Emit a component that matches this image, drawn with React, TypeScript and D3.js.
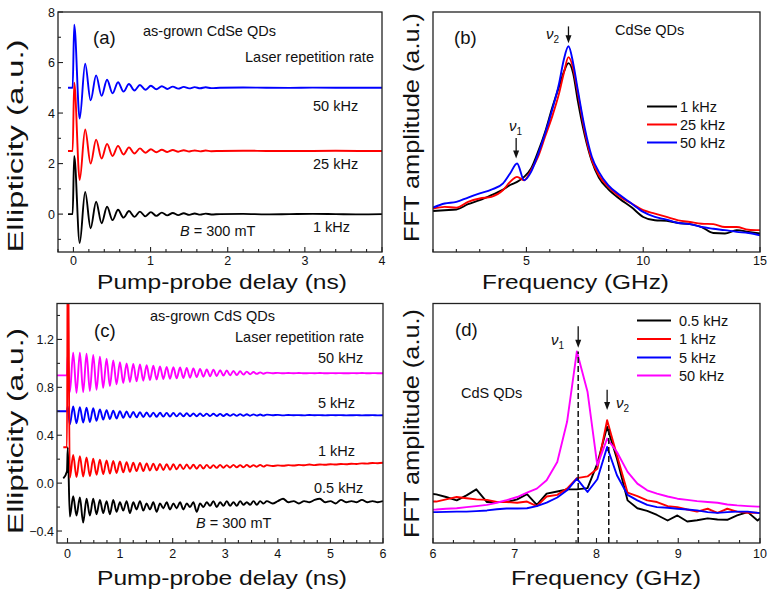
import React from 'react';
import * as d3 from 'd3';

// ---------- (a) CdSe QDs: ellipticity traces (extrema) ----------
const aTime = [-0.07, -0.01,
  0.01, 0.081, 0.152, 0.223, 0.294, 0.365, 0.436, 0.507, 0.578, 0.649,
  0.72, 0.791, 0.862, 0.933, 1.004, 1.075, 1.146, 1.217, 1.288, 1.359,
  1.43, 1.501, 1.572, 1.643, 1.714, 1.785,
  1.9, 2.2, 2.5, 2.8, 3.1, 3.4, 3.7, 4.0];
const aKHz1 = [0, 0,
  2.3, -1.15, 0.88, -0.56, 0.49, -0.36, 0.29, -0.24, 0.17, -0.14,
  0.12, -0.11, 0.1, -0.09, 0.08, -0.07, 0.06, -0.05, 0.045, -0.04,
  0.035, -0.03, 0.025, -0.02, 0.02, -0.015,
  0, 0.01, -0.01, 0, 0.01, 0, -0.01, 0];
const aKHz25 = [2.5, 2.5,
  5.2, 1.35, 3.35, 2.0, 2.95, 2.2, 2.78, 2.3, 2.7, 2.36,
  2.64, 2.4, 2.6, 2.43, 2.57, 2.45, 2.55, 2.46, 2.54, 2.47,
  2.53, 2.48, 2.52, 2.485, 2.515, 2.49,
  2.5, 2.51, 2.5, 2.495, 2.5, 2.505, 2.5, 2.5];
const aKHz50 = [5, 5,
  7.5, 3.78, 5.95, 4.5, 5.49, 4.68, 5.32, 4.78, 5.22, 4.85,
  5.15, 4.89, 5.11, 4.92, 5.08, 4.94, 5.06, 4.955, 5.045, 4.965,
  5.035, 4.975, 5.025, 4.98, 5.02, 4.985,
  5.0, 5.01, 5.0, 4.995, 5.005, 5.0, 5.0, 5.0];

// ---------- (b) CdSe QDs: FFT spectra ----------
const bFreq = [1, 1.5, 2, 2.5, 3, 3.5, 4, 4.3, 4.6, 4.9, 5.2, 5.5, 5.8, 6.1, 6.4, 6.6, 6.8, 7.0,
  7.2, 7.5, 7.8, 8.1, 8.5, 9, 9.5, 10, 10.5, 11, 11.5, 12, 12.5, 13, 13.5, 14, 14.5, 15];
const bKHz1 = [0.171, 0.174, 0.177, 0.199, 0.216, 0.237, 0.26, 0.279, 0.292, 0.313, 0.348, 0.418,
  0.5, 0.6, 0.69, 0.75, 0.787, 0.745, 0.63, 0.485, 0.378, 0.31, 0.262, 0.221, 0.186, 0.146,
  0.132, 0.13, 0.121, 0.116, 0.104, 0.079, 0.077, 0.091, 0.084, 0.077];
const bKHz25 = [0.181, 0.188, 0.185, 0.209, 0.223, 0.23, 0.258, 0.292, 0.313, 0.299, 0.341, 0.397,
  0.481, 0.564, 0.662, 0.745, 0.812, 0.766, 0.662, 0.501, 0.383, 0.32, 0.272, 0.23, 0.202, 0.174,
  0.16, 0.146, 0.132, 0.125, 0.118, 0.116, 0.104, 0.104, 0.093, 0.091];
const bKHz50 = [0.185, 0.202, 0.209, 0.227, 0.244, 0.26, 0.286, 0.327, 0.369, 0.299, 0.334, 0.408,
  0.494, 0.592, 0.703, 0.801, 0.857, 0.787, 0.675, 0.515, 0.397, 0.334, 0.279, 0.237, 0.202, 0.167,
  0.146, 0.135, 0.121, 0.116, 0.104, 0.097, 0.091, 0.084, 0.079, 0.07];

// ---------- (c) CdS QDs: ellipticity traces ----------
const cTime = [-0.2, -0.08, -0.01, 0.005,
  0.044, 0.108, 0.171, 0.235, 0.298, 0.362, 0.425, 0.489, 0.552, 0.616,
  0.679, 0.743, 0.806, 0.87, 0.933, 0.997, 1.06, 1.124, 1.187, 1.251,
  1.314, 1.378, 1.441, 1.505, 1.568, 1.632, 1.695, 1.759, 1.822, 1.886,
  1.949, 2.013, 2.076, 2.14, 2.203, 2.267, 2.33, 2.394, 2.457, 2.521,
  2.584, 2.648, 2.711, 2.775, 2.838, 2.902, 2.965, 3.029, 3.092, 3.156,
  3.219, 3.283, 3.346, 3.41, 3.473, 3.537, 3.6, 3.664, 3.727, 3.791,
  3.9, 4.0, 4.1, 4.2, 4.3, 4.4, 4.5, 4.6, 4.7, 4.8, 4.9,
  5.0, 5.1, 5.2, 5.3, 5.4, 5.5, 5.6, 5.7, 5.8, 5.9, 6.0];
const cKHz05 = [null, 0.04, 0.1, 0.3,
  -0.28, -0.11, -0.27, -0.12, -0.33, -0.13, -0.27, -0.13, -0.26, -0.14,
  -0.25, -0.15, -0.26, -0.14, -0.24, -0.16, -0.23, -0.15, -0.25, -0.16,
  -0.22, -0.15, -0.23, -0.17, -0.22, -0.16, -0.24, -0.17, -0.21, -0.16,
  -0.22, -0.17, -0.21, -0.16, -0.22, -0.17, -0.2, -0.16, -0.24, -0.17,
  -0.2, -0.16, -0.19, -0.15, -0.2, -0.16, -0.19, -0.15, -0.19, -0.16,
  -0.19, -0.15, -0.18, -0.16, -0.18, -0.15, -0.18, -0.15, -0.17, -0.15,
  -0.17, -0.15, -0.13, -0.16, -0.15, -0.17, -0.15, -0.16, -0.14, -0.13, -0.16,
  -0.15, -0.17, -0.14, -0.16, -0.15, -0.16, -0.14, -0.16, -0.15, -0.16, -0.15];
const cKHz1 = [null, 0.3, 0.3, 2.2,
  0.045, 0.235, 0.05, 0.225, 0.055, 0.215, 0.06, 0.205, 0.07, 0.195,
  0.075, 0.19, 0.08, 0.185, 0.085, 0.18, 0.09, 0.175, 0.095, 0.17,
  0.1, 0.168, 0.1, 0.165, 0.105, 0.163, 0.108, 0.16, 0.11, 0.158,
  0.112, 0.157, 0.115, 0.155, 0.117, 0.155, 0.12, 0.153, 0.12, 0.152,
  0.122, 0.152, 0.125, 0.15, 0.127, 0.152, 0.128, 0.15, 0.13, 0.152,
  0.132, 0.15, 0.133, 0.152, 0.135, 0.15, 0.137, 0.152, 0.138, 0.15,
  0.143, 0.148, 0.145, 0.15, 0.147, 0.152, 0.149, 0.155, 0.15, 0.156, 0.153,
  0.158, 0.155, 0.16, 0.158, 0.162, 0.16, 0.165, 0.163, 0.168, 0.166, 0.17];
const cKHz5 = [0.6, 0.6, 0.6, 0.64,
  0.49, 0.64, 0.5, 0.635, 0.505, 0.63, 0.51, 0.625, 0.52, 0.615,
  0.53, 0.61, 0.535, 0.605, 0.54, 0.6, 0.545, 0.598, 0.548, 0.595,
  0.55, 0.592, 0.552, 0.59, 0.553, 0.589, 0.554, 0.588, 0.555, 0.587,
  0.556, 0.585, 0.557, 0.584, 0.558, 0.583, 0.558, 0.582, 0.559, 0.581,
  0.56, 0.58, 0.56, 0.579, 0.561, 0.578, 0.561, 0.577, 0.562, 0.576,
  0.562, 0.576, 0.563, 0.575, 0.563, 0.574, 0.564, 0.573, 0.564, 0.572,
  0.567, 0.57, 0.566, 0.569, 0.567, 0.568, 0.566, 0.569, 0.567, 0.568, 0.566,
  0.568, 0.567, 0.568, 0.566, 0.567, 0.568, 0.566, 0.567, 0.568, 0.566, 0.567];
const cKHz50 = [0.9, 0.9, 0.9, 1.07,
  0.76, 1.09, 0.755, 1.09, 0.76, 1.08, 0.77, 1.07, 0.78, 1.055,
  0.795, 1.04, 0.81, 1.025, 0.825, 1.01, 0.835, 1.0, 0.845, 0.995,
  0.85, 0.99, 0.855, 0.985, 0.86, 0.98, 0.865, 0.975, 0.87, 0.97,
  0.872, 0.968, 0.875, 0.965, 0.878, 0.962, 0.88, 0.958, 0.885, 0.954,
  0.888, 0.95, 0.892, 0.947, 0.895, 0.944, 0.898, 0.94, 0.9, 0.937,
  0.903, 0.934, 0.906, 0.931, 0.909, 0.928, 0.912, 0.925, 0.913, 0.923,
  0.918, 0.921, 0.917, 0.92, 0.918, 0.92, 0.917, 0.919, 0.918, 0.92, 0.917,
  0.919, 0.918, 0.919, 0.917, 0.919, 0.918, 0.92, 0.917, 0.919, 0.918, 0.918];

// ---------- (d) CdS QDs: FFT spectra ----------
const dFreq = [5.92, 6.04, 6.16, 6.29, 6.41, 6.53, 6.66, 6.78, 6.9, 7.03, 7.15, 7.27, 7.39, 7.52,
  7.64, 7.76, 7.89, 8.01, 8.13, 8.25, 8.38, 8.5, 8.62, 8.74, 8.87, 8.99, 9.11, 9.23, 9.36, 9.48,
  9.6, 9.72, 9.85, 9.97, 10.09];
const dKHz05 = [0.208, 0.203, 0.192, 0.178, 0.199, 0.224, 0.171, 0.171, 0.171, 0.182, 0.204, 0.159,
  0.206, 0.215, 0.224, 0.224, 0.229, 0.331, 0.485, 0.352, 0.178, 0.145, 0.134, 0.117, 0.094, 0.115,
  0.09, 0.095, 0.103, 0.098, 0.097, 0.115, 0.129, 0.094, 0.129];
const dKHz1 = [0.173, 0.173, 0.182, 0.192, 0.187, 0.182, 0.18, 0.171, 0.171, 0.168, 0.173, 0.154,
  0.194, 0.201, 0.227, 0.271, 0.278, 0.31, 0.513, 0.366, 0.21, 0.196, 0.178, 0.171, 0.154, 0.15,
  0.14, 0.131, 0.143, 0.126, 0.143, 0.131, 0.126, 0.126, 0.122];
const dKHz5 = [0.129, 0.129, 0.13, 0.131, 0.131, 0.133, 0.136, 0.141, 0.144, 0.144, 0.145, 0.154,
  0.169, 0.19, 0.22, 0.269, 0.213, 0.266, 0.401, 0.283, 0.201, 0.178, 0.159, 0.15, 0.147, 0.143,
  0.14, 0.136, 0.129, 0.126, 0.129, 0.131, 0.131, 0.126, 0.122];
const dKHz50 = [0.138, 0.14, 0.143, 0.145, 0.15, 0.154, 0.159, 0.168, 0.179, 0.192, 0.21, 0.227,
  0.262, 0.338, 0.506, 0.8, 0.632, 0.324, 0.436, 0.38, 0.297, 0.248, 0.22, 0.206, 0.194, 0.185,
  0.18, 0.175, 0.171, 0.168, 0.161, 0.157, 0.154, 0.152, 0.151];

// tick values
const aXTicks = [0, 1, 2, 3, 4];
const aYTicks = [0, 2, 4, 6, 8];
const bXTicks = [5, 10, 15];
const cXTicks = [0, 1, 2, 3, 4, 5, 6];
const cYTicks = [-0.4, 0, 0.4, 0.8, 1.2];
const dXTicks = [6, 7, 8, 9, 10];

// peak positions (GHz) marked with arrows
const bNu1 = 4.56, bNu2 = 6.8;
const dNu1 = 7.776, dNu2 = 8.15;

const FONT = '"Liberation Sans", Arial, Helvetica, sans-serif';
const INK = '#111';
const ANN = 14.5;

type Scale = d3.ScaleLinear<number, number>;
interface Series { name: string; color: string; values: (number | null)[] }
interface Box { left: number; right: number; top: number; bottom: number }

function minorTicks(domain: [number, number], step: number, majors: number[]) {
  const out: number[] = [];
  const start = Math.ceil(domain[0] / step - 1e-6);
  const end = Math.floor(domain[1] / step + 1e-6);
  for (let i = start; i <= end; i++) {
    const v = +(i * step).toFixed(6);
    if (!majors.some(m => Math.abs(m - v) < 1e-6)) out.push(v);
  }
  return out;
}

function Panel(props: {
  id: string; box: Box;
  xDomain: [number, number]; yDomain: [number, number];
  xTicks: number[]; xMinor: number;
  yTicks?: number[]; yMinor?: number; yFormat?: (v: number) => string;
  xLabelY: number;
  xTitle: { text: string; cx: number; y: number; len: number };
  yTitle: { text: string; x: number; cy: number; len: number };
  xs: number[]; series: Series[]; curve: d3.CurveFactory;
  extra?: (x: Scale, y: Scale) => React.ReactNode;
}) {
  const { box } = props;
  const x = d3.scaleLinear().domain(props.xDomain).range([box.left, box.right]);
  const y = d3.scaleLinear().domain(props.yDomain).range([box.bottom, box.top]);
  const line = d3.line<[number, number | null]>()
    .defined(d => d[1] != null)
    .x(d => x(d[0]))
    .y(d => y(d[1] as number))
    .curve(props.curve);
  const xMin = minorTicks(props.xDomain, props.xMinor, props.xTicks);
  const yTicks = props.yTicks ?? [];
  const yMin = props.yMinor ? minorTicks(props.yDomain, props.yMinor, yTicks) : [];
  const fmtY = props.yFormat ?? ((v: number) => String(v));
  return (
    <g>
      <defs>
        <clipPath id={`clip-${props.id}`}>
          <rect x={box.left} y={box.top} width={box.right - box.left} height={box.bottom - box.top} />
        </clipPath>
      </defs>
      <g clipPath={`url(#clip-${props.id})`} fill="none" strokeWidth={1.9} strokeLinejoin="round">
        {props.series.map(s => (
          <path key={s.name} d={line(props.xs.map((t, i) => [t, s.values[i]] as [number, number | null])) ?? ''}
            stroke={s.color} />
        ))}
      </g>
      {props.extra && props.extra(x, y)}
      <rect x={box.left} y={box.top} width={box.right - box.left} height={box.bottom - box.top}
        fill="none" stroke="#222" strokeWidth={1.3} />
      <g stroke="#222" strokeWidth={1.1}>
        {props.xTicks.map(v => <line key={`xM${v}`} x1={x(v)} x2={x(v)} y1={box.bottom} y2={box.bottom - 5} />)}
        {xMin.map(v => <line key={`xm${v}`} x1={x(v)} x2={x(v)} y1={box.bottom} y2={box.bottom - 3} />)}
        {yTicks.map(v => <line key={`yM${v}`} x1={box.left} x2={box.left + 5} y1={y(v)} y2={y(v)} />)}
        {yMin.map(v => <line key={`ym${v}`} x1={box.left} x2={box.left + 3} y1={y(v)} y2={y(v)} />)}
      </g>
      <g fontSize={12.5} fill={INK}>
        {props.xTicks.map(v => (
          <text key={`xl${v}`} x={x(v)} y={props.xLabelY} textAnchor="middle">{String(v)}</text>
        ))}
        {yTicks.map(v => (
          <text key={`yl${v}`} x={box.left - 3} y={y(v) + 4.5} textAnchor="end">{fmtY(v)}</text>
        ))}
      </g>
      <text x={props.xTitle.cx - props.xTitle.len / 2} y={props.xTitle.y} fontSize={21} fill={INK}
        textLength={props.xTitle.len} lengthAdjust="spacingAndGlyphs">{props.xTitle.text}</text>
      <text transform={`translate(${props.yTitle.x},${props.yTitle.cy}) rotate(-90)`}
        x={-props.yTitle.len / 2} y={0} fontSize={22} fill={INK}
        textLength={props.yTitle.len} lengthAdjust="spacingAndGlyphs">{props.yTitle.text}</text>
    </g>
  );
}

function Arrow({ x, yStart, yTip }: { x: number; yStart: number; yTip: number }) {
  return (
    <g>
      <line x1={x} x2={x} y1={yStart} y2={yTip - 6} stroke="#111" strokeWidth={1.3} />
      <path d={`M${x - 3},${yTip - 8}L${x + 3},${yTip - 8}L${x},${yTip}Z`} fill="#111" />
    </g>
  );
}

function Nu({ x, y, sub }: { x: number; y: number; sub: string }) {
  return (
    <text x={x} y={y} fontSize={15} fill={INK} fontStyle="italic">
      ν<tspan fontSize={10} fontStyle="normal" dy={4}>{sub}</tspan>
    </text>
  );
}

function Legend({ x1, x2, tx, rows, items }: { x1: number; x2: number; tx: number; rows: number[]; items: Series[] }) {
  return (
    <g>
      {items.map((s, i) => (
        <g key={s.name}>
          <line x1={x1} x2={x2} y1={rows[i]} y2={rows[i]} stroke={s.color} strokeWidth={2} />
          <text x={tx} y={rows[i] + 5} fontSize={ANN} fill={INK}>{s.name}</text>
        </g>
      ))}
    </g>
  );
}

const T = (p: { x: number; y: number; size?: number; children: React.ReactNode }) => (
  <text x={p.x} y={p.y} fontSize={p.size ?? ANN} fill={INK}>{p.children}</text>
);

export default function App() {
  const aSeries: Series[] = [
    { name: '1 kHz', color: '#000000', values: aKHz1 },
    { name: '25 kHz', color: '#ff0000', values: aKHz25 },
    { name: '50 kHz', color: '#0000ff', values: aKHz50 },
  ];
  const bSeries: Series[] = [
    { name: '1 kHz', color: '#000000', values: bKHz1 },
    { name: '25 kHz', color: '#ff0000', values: bKHz25 },
    { name: '50 kHz', color: '#0000ff', values: bKHz50 },
  ];
  const cSeries: Series[] = [
    { name: '0.5 kHz', color: '#000000', values: cKHz05 },
    { name: '5 kHz', color: '#0000ff', values: cKHz5 },
    { name: '50 kHz', color: '#ff00ff', values: cKHz50 },
    { name: '1 kHz', color: '#ff0000', values: cKHz1 },
  ];
  const dSeries: Series[] = [
    { name: '0.5 kHz', color: '#000000', values: dKHz05 },
    { name: '1 kHz', color: '#ff0000', values: dKHz1 },
    { name: '5 kHz', color: '#0000ff', values: dKHz5 },
    { name: '50 kHz', color: '#ff00ff', values: dKHz50 },
  ];
  const topBox = { top: 12, bottom: 252 };
  const botBox = { top: 303.5, bottom: 543 };
  return (
    <svg width={774} height={596} viewBox="0 0 774 596" fontFamily={FONT}
      style={{ position: 'absolute', left: 0, top: 0, display: 'block', background: '#fff' }}>
      <rect width={774} height={596} fill="#fff" />

      <Panel id="a" box={{ left: 58, right: 382, ...topBox }} xDomain={[-0.2, 4]} yDomain={[-1.5, 8]}
        xTicks={aXTicks} xMinor={0.2} yTicks={aYTicks} yMinor={1} yFormat={d3.format('d')}
        xLabelY={265}
        xTitle={{ text: 'Pump-probe delay (ns)', cx: 222, y: 289, len: 250 }}
        yTitle={{ text: 'Ellipticity (a.u.)', x: 23, cy: 146, len: 213 }}
        xs={aTime} series={aSeries} curve={d3.curveMonotoneX}
        extra={() => (
          <g>
            <T x={93} y={44} size={18.5}>(a)</T>
            <T x={143} y={36}>as-grown CdSe QDs</T>
            <T x={245} y={62}>Laser repetition rate</T>
            <T x={313} y={111}>50 kHz</T>
            <T x={313} y={169}>25 kHz</T>
            <T x={313} y={232}>1 kHz</T>
            <T x={180} y={236}><tspan fontStyle="italic">B</tspan> = 300 mT</T>
          </g>
        )} />

      <Panel id="b" box={{ left: 433, right: 760, ...topBox }} xDomain={[1, 15]} yDomain={[0, 1]}
        xTicks={bXTicks} xMinor={1} xLabelY={265}
        xTitle={{ text: 'Frequency (GHz)', cx: 575.5, y: 289, len: 187 }}
        yTitle={{ text: 'FFT amplitude (a.u.)', x: 419, cy: 127.5, len: 229 }}
        xs={bFreq} series={bSeries} curve={d3.curveMonotoneX}
        extra={(x, y) => (
          <g>
            <T x={454} y={44} size={18.5}>(b)</T>
            <T x={615} y={35}>CdSe QDs</T>
            <Legend x1={647} x2={677} tx={680} rows={[106.5, 124.5, 142.5]} items={bSeries} />
            <Arrow x={x(bNu2)} yStart={y(0.94)} yTip={y(0.87)} />
            <Nu x={546} y={39} sub="2" />
            <Arrow x={x(bNu1)} yStart={y(0.475)} yTip={y(0.39)} />
            <Nu x={509} y={131} sub="1" />
          </g>
        )} />

      <Panel id="c" box={{ left: 57, right: 383, ...botBox }} xDomain={[-0.2, 6]} yDomain={[-0.5, 1.5]}
        xTicks={cXTicks} xMinor={0.25} yTicks={cYTicks} yMinor={0.2} yFormat={d3.format('.1f')}
        xLabelY={558}
        xTitle={{ text: 'Pump-probe delay (ns)', cx: 222, y: 585, len: 250 }}
        yTitle={{ text: 'Ellipticity (a.u.)', x: 23, cy: 431, len: 206 }}
        xs={cTime} series={cSeries} curve={d3.curveMonotoneX}
        extra={() => (
          <g>
            <T x={94} y={337} size={18.5}>(c)</T>
            <T x={150} y={321}>as-grown CdS QDs</T>
            <T x={235} y={342}>Laser repetition rate</T>
            <T x={318} y={363}>50 kHz</T>
            <T x={318} y={408}>5 kHz</T>
            <T x={318} y={456}>1 kHz</T>
            <T x={314} y={493}>0.5 kHz</T>
            <T x={196} y={528}><tspan fontStyle="italic">B</tspan> = 300 mT</T>
          </g>
        )} />

      <Panel id="d" box={{ left: 433, right: 760, ...botBox }} xDomain={[6, 10]} yDomain={[0, 1]}
        xTicks={dXTicks} xMinor={0.25} xLabelY={558}
        xTitle={{ text: 'Frequency (GHz)', cx: 606, y: 585, len: 190 }}
        yTitle={{ text: 'FFT amplitude (a.u.)', x: 419, cy: 423.5, len: 229 }}
        xs={dFreq} series={dSeries} curve={d3.curveLinear}
        extra={(x, y) => (
          <g>
            <line x1={x(dNu1)} x2={x(dNu1)} y1={y(0)} y2={y(0.8)} stroke="#111" strokeWidth={1.5} strokeDasharray="6,3" />
            <line x1={x(dNu2)} x2={x(dNu2)} y1={y(0)} y2={y(0.48)} stroke="#111" strokeWidth={1.5} strokeDasharray="6,3" />
            <T x={455} y={336} size={18.5}>(d)</T>
            <T x={461} y={398}>CdS QDs</T>
            <Legend x1={637} x2={671} tx={679} rows={[320.5, 339, 357.5, 375.5]} items={dSeries} />
            <Arrow x={x(dNu1)} yStart={y(0.905)} yTip={y(0.815)} />
            <Nu x={551} y={345} sub="1" />
            <Arrow x={x(8.13)} yStart={y(0.64)} yTip={y(0.555)} />
            <Nu x={616} y={408} sub="2" />
          </g>
        )} />
    </svg>
  );
}
